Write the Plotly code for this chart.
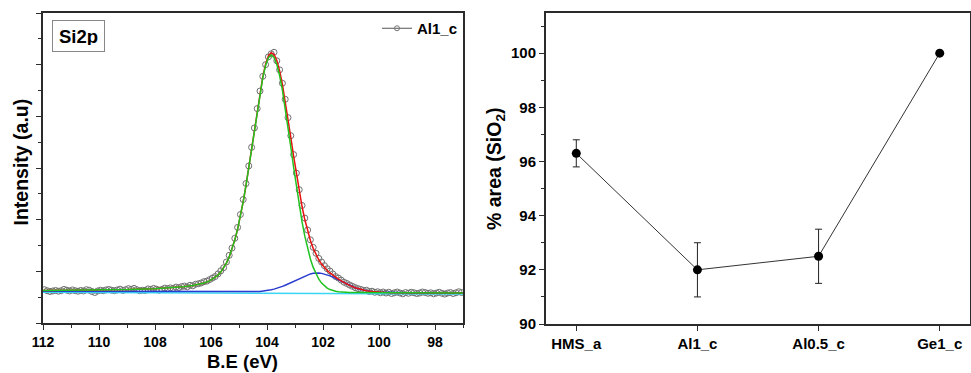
import plotly.graph_objects as go

# ---------------- Left panel: Si2p XPS spectrum (Al1_c) ----------------
# measured points (binding energy, eV) and intensity (a.u.)
be_data = [111.95, 111.85, 111.75, 111.65, 111.55, 111.45, 111.35, 111.25, 111.15, 111.05,
           110.95, 110.85, 110.75, 110.65, 110.55, 110.45, 110.35, 110.25, 110.15, 110.05,
           109.95, 109.85, 109.75, 109.65, 109.55, 109.45, 109.35, 109.25, 109.15, 109.05,
           108.95, 108.85, 108.75, 108.65, 108.55, 108.45, 108.35, 108.25, 108.15, 108.05,
           107.95, 107.85, 107.75, 107.65, 107.55, 107.45, 107.35, 107.25, 107.15, 107.05,
           106.95, 106.85, 106.75, 106.65, 106.55, 106.45, 106.35, 106.25, 106.15, 106.05,
           105.95, 105.85, 105.75, 105.65, 105.55, 105.45, 105.35, 105.25, 105.15, 105.05,
           104.95, 104.85, 104.75, 104.65, 104.55, 104.45, 104.35, 104.25, 104.15, 104.05,
           103.95, 103.85, 103.75, 103.65, 103.55, 103.45, 103.35, 103.25, 103.15, 103.05,
           102.95, 102.85, 102.75, 102.65, 102.55, 102.45, 102.35, 102.25, 102.15, 102.05,
           101.95, 101.85, 101.75, 101.65, 101.55, 101.45, 101.35, 101.25, 101.15, 101.05,
           100.95, 100.85, 100.75, 100.65, 100.55, 100.45, 100.35, 100.25, 100.15, 100.05,
           99.95, 99.85, 99.75, 99.65, 99.55, 99.45, 99.35, 99.25, 99.15, 99.05,
           98.95, 98.85, 98.75, 98.65, 98.55, 98.45, 98.35, 98.25, 98.15, 98.05,
           97.95, 97.85, 97.75, 97.65, 97.55, 97.45, 97.35, 97.25, 97.15, 97.05]
intensity_data = [1.29, 1.25, 1.22, 1.24, 1.26, 1.23, 1.25, 1.30, 1.27, 1.24,
                  1.28, 1.25, 1.23, 1.26, 1.24, 1.29, 1.27, 1.22, 1.18, 1.24,
                  1.27, 1.25, 1.28, 1.30, 1.27, 1.25, 1.28, 1.31, 1.26, 1.29,
                  1.33, 1.30, 1.34, 1.29, 1.25, 1.27, 1.26, 1.32, 1.30, 1.34,
                  1.31, 1.27, 1.30, 1.35, 1.33, 1.36, 1.34, 1.39, 1.37, 1.41,
                  1.43, 1.40, 1.46, 1.44, 1.50, 1.52, 1.55, 1.60, 1.62, 1.68,
                  1.74, 1.80, 1.90, 2.02, 2.14, 2.36, 2.62, 2.90, 3.28, 3.70,
                  4.20, 4.78, 5.40, 6.08, 6.80, 7.55, 8.30, 8.98, 9.55, 10.00,
                  10.30, 10.42, 10.48, 10.15, 9.80, 9.28, 8.66, 7.95, 7.25, 6.52,
                  5.80, 5.16, 4.55, 4.06, 3.60, 3.22, 2.93, 2.70, 2.50, 2.36,
                  2.22, 2.10, 2.01, 1.90, 1.80, 1.74, 1.66, 1.58, 1.53, 1.47,
                  1.42, 1.37, 1.33, 1.30, 1.26, 1.27, 1.22, 1.23, 1.19, 1.21,
                  1.17, 1.20, 1.16, 1.19, 1.14, 1.17, 1.20, 1.16, 1.13, 1.18,
                  1.15, 1.19, 1.17, 1.14, 1.16, 1.20, 1.18, 1.15, 1.17, 1.13,
                  1.16, 1.19, 1.15, 1.12, 1.16, 1.18, 1.14, 1.17, 1.21, 1.18]

# fitted curves
be_fit = [112.0, 111.0, 110.0, 109.0, 108.0, 107.5, 107.0,
          106.65, 106.45, 106.25, 106.05,
          105.85, 105.75, 105.65, 105.55, 105.45, 105.35, 105.25, 105.15, 105.05, 104.95,
          104.85, 104.75, 104.65, 104.55, 104.45, 104.35, 104.25, 104.15, 104.05, 103.95,
          103.85, 103.75, 103.65, 103.55, 103.45, 103.35, 103.25, 103.15, 103.05, 102.95,
          102.85, 102.75, 102.65, 102.55, 102.45, 102.35, 102.25, 102.15, 102.05, 101.95,
          101.85, 101.75, 101.65, 101.55, 101.45, 101.35, 101.25, 101.15, 101.05,
          100.85, 100.65, 100.45, 100.25, 100.05, 99.75, 99.5, 99.0, 98.0, 97.0]
fit_baseline = [1.230, 1.225, 1.221, 1.216, 1.211, 1.209, 1.207,
                1.205, 1.204, 1.203, 1.202,
                1.201, 1.201, 1.200, 1.200, 1.199, 1.199, 1.199, 1.198, 1.198, 1.197,
                1.197, 1.196, 1.196, 1.195, 1.195, 1.194, 1.194, 1.193, 1.193, 1.193,
                1.192, 1.192, 1.191, 1.191, 1.190, 1.190, 1.189, 1.189, 1.188, 1.188,
                1.188, 1.187, 1.187, 1.186, 1.186, 1.185, 1.185, 1.184, 1.184, 1.183,
                1.183, 1.183, 1.182, 1.182, 1.181, 1.181, 1.180, 1.180, 1.179,
                1.178, 1.177, 1.176, 1.175, 1.174, 1.173, 1.172, 1.169, 1.165, 1.160]
peak_sio2 = [0.031, 0.040, 0.054, 0.077, 0.117, 0.149, 0.197,
             0.245, 0.288, 0.343, 0.427,
             0.558, 0.653, 0.773, 0.925, 1.118, 1.359, 1.655, 2.012, 2.438, 2.934,
             3.499, 4.130, 4.815, 5.538, 6.282, 7.014, 7.700, 8.301, 8.772, 9.075,
             9.180, 9.089, 8.820, 8.390, 7.822, 7.149, 6.405, 5.624, 4.841, 4.084,
             3.377, 2.737, 2.175, 1.694, 1.293, 0.968, 0.710, 0.510, 0.360, 0.249,
             0.168, 0.112, 0.073, 0.046, 0.029, 0.018, 0.011, 0.006, 0.004,
             0.0, 0.0, 0.0, 0.0, 0.0, 0.0, 0.0, 0.0, 0.0, 0.0]
peak_sub = [0.0, 0.0, 0.0, 0.0, 0.0, 0.0, 0.0,
            0.0, 0.0, 0.0, 0.0,
            0.0, 0.0, 0.0, 0.0, 0.0, 0.0, 0.0, 0.001, 0.0015, 0.0023,
            0.0034, 0.005, 0.0075, 0.011, 0.0154, 0.0215, 0.0297, 0.040, 0.054, 0.071,
            0.093, 0.119, 0.149, 0.185, 0.226, 0.272, 0.322, 0.375, 0.431, 0.487,
            0.542, 0.595, 0.642, 0.683, 0.715, 0.737, 0.749, 0.749, 0.737, 0.715,
            0.683, 0.642, 0.595, 0.542, 0.487, 0.431, 0.375, 0.322, 0.272,
            0.185, 0.119, 0.071, 0.040, 0.022, 0.0075, 0.003, 0.0, 0.0, 0.0]
bg_be = [112.0, 97.0]
bg_int = [1.19, 1.12]

assert len(be_data) == len(intensity_data)
assert len(be_fit) == len(fit_baseline) == len(peak_sio2) == len(peak_sub)

green_curve = [b + g for b, g in zip(fit_baseline, peak_sio2)]
blue_curve = [b + s for b, s in zip(fit_baseline, peak_sub)]
envelope = [b + g + s for b, g, s in zip(fit_baseline, peak_sio2, peak_sub)]

# ---------------- Right panel: % area SiO2 ----------------
samples = ["HMS_a", "Al1_c", "Al0.5_c", "Ge1_c"]
area_sio2 = [96.3, 92.0, 92.5, 100.0]
area_err = [0.5, 1.0, 1.0, 0.0]

FONT = "Arial, Liberation Sans, sans-serif"
AX = "#2b2b2b"

fig = go.Figure()

fig.add_trace(go.Scatter(x=be_data, y=intensity_data, mode="markers",
                         marker=dict(symbol="circle-open", size=6, color="#707070",
                                     line=dict(width=1, color="#707070")),
                         showlegend=False, xaxis="x", yaxis="y"))
fig.add_trace(go.Scatter(x=bg_be, y=bg_int, mode="lines",
                         line=dict(color="#3ad6f5", width=1.5),
                         showlegend=False, xaxis="x", yaxis="y"))
fig.add_trace(go.Scatter(x=be_fit, y=blue_curve, mode="lines",
                         line=dict(color="#2a3bd0", width=1.5),
                         showlegend=False, xaxis="x", yaxis="y"))
fig.add_trace(go.Scatter(x=be_fit, y=envelope, mode="lines",
                         line=dict(color="#e81010", width=1.5),
                         showlegend=False, xaxis="x", yaxis="y"))
fig.add_trace(go.Scatter(x=be_fit, y=green_curve, mode="lines",
                         line=dict(color="#1fc21f", width=1.5),
                         showlegend=False, xaxis="x", yaxis="y"))
# legend entry (line + open circle)
fig.add_trace(go.Scatter(x=[None], y=[None], mode="lines+markers", name="Al1_c",
                         line=dict(color="#555555", width=1),
                         marker=dict(symbol="circle-open", size=5, color="#777777"),
                         xaxis="x", yaxis="y"))

fig.add_trace(go.Scatter(x=samples, y=area_sio2, mode="lines+markers",
                         line=dict(color="#333333", width=1),
                         marker=dict(symbol="circle", size=9, color="#000000"),
                         error_y=dict(type="data", array=area_err, visible=True,
                                      color="#222222", thickness=1, width=3.5),
                         showlegend=False, xaxis="x2", yaxis="y2"))

xl = [43 / 971, 463 / 971]
xr = [546 / 971, 970 / 971]

fig.update_layout(
    width=971, height=373,
    margin=dict(l=0, r=0, t=0, b=0, autoexpand=False),
    paper_bgcolor="white", plot_bgcolor="white",
    font=dict(family=FONT, color="#000000"),
    xaxis=dict(domain=xl, range=[112, 97], anchor="y", automargin=False,
               tickmode="linear", tick0=0, dtick=2,
               ticks="outside", ticklen=5, tickwidth=1.3, tickcolor=AX,
               minor=dict(dtick=1, ticks="outside", ticklen=3, tickwidth=1.2, tickcolor=AX),
               showline=True, linecolor=AX, linewidth=2, mirror=True,
               showgrid=False, zeroline=False,
               tickfont=dict(family=FONT, size=14, color="#000000", weight="bold")),
    yaxis=dict(domain=[1 - 323 / 373, 1 - 13 / 373], range=[0, 12], anchor="x",
               automargin=False,
               tickmode="linear", tick0=0, dtick=2,
               ticks="outside", ticklen=5, tickwidth=1.3, tickcolor=AX,
               minor=dict(dtick=1, ticks="outside", ticklen=3, tickwidth=1.2, tickcolor=AX),
               showticklabels=False,
               showline=True, linecolor=AX, linewidth=2, mirror=True,
               showgrid=False, zeroline=False),
    xaxis2=dict(domain=xr, range=[-0.25, 3.25], anchor="y2", type="category",
                automargin=False,
                ticks="outside", ticklen=5, tickwidth=1.3, tickcolor=AX,
                showline=True, linecolor=AX, linewidth=2, mirror=True,
                showgrid=False, zeroline=False,
                tickfont=dict(family=FONT, size=15, color="#000000", weight="bold")),
    yaxis2=dict(domain=[1 - 324 / 373, 1 - 12.5 / 373], range=[90, 101.5], anchor="x2",
                automargin=False,
                tickmode="linear", tick0=0, dtick=2,
                ticks="outside", ticklen=5, tickwidth=1.3, tickcolor=AX,
                minor=dict(dtick=1, ticks="outside", ticklen=3, tickwidth=1.2, tickcolor=AX),
                showline=True, linecolor=AX, linewidth=2, mirror=True,
                showgrid=False, zeroline=False,
                tickfont=dict(family=FONT, size=15, color="#000000", weight="bold")),
    legend=dict(x=xl[1], xanchor="right", y=1 - 12 / 373, yanchor="top",
                bgcolor="rgba(0,0,0,0)", borderwidth=0,
                font=dict(family=FONT, size=15, color="#000000", weight="bold"),
                itemwidth=30, tracegroupgap=0),
    annotations=[
        dict(text="<b>Si2p</b>", xref="paper", yref="paper",
             x=78 / 971, y=1 - 36.5 / 373, xanchor="center", yanchor="middle",
             showarrow=False, font=dict(family=FONT, size=18.5, color="#000000"),
             bordercolor="#888888", borderwidth=1, borderpad=6, height=18,
             bgcolor="white"),
        dict(text="<b>B.E (eV)</b>", xref="paper", yref="paper",
             x=243 / 971, y=1 - 361.5 / 373, xanchor="center", yanchor="middle",
             showarrow=False, borderpad=0,
             font=dict(family=FONT, size=18.5, color="#000000")),
        dict(text="<b>Intensity (a.u)</b>", xref="paper", yref="paper",
             x=20.5 / 971, y=1 - 162 / 373, xanchor="center", yanchor="middle",
             textangle=-90, showarrow=False,
             font=dict(family=FONT, size=19.5, color="#000000")),
        dict(text="<b>% area (SiO<sub>2</sub>)</b>", xref="paper", yref="paper",
             x=495 / 971, y=1 - 169 / 373, xanchor="center", yanchor="middle",
             textangle=-90, showarrow=False,
             font=dict(family=FONT, size=19.5, color="#000000")),
    ],
)

fig.write_html("out.html")
